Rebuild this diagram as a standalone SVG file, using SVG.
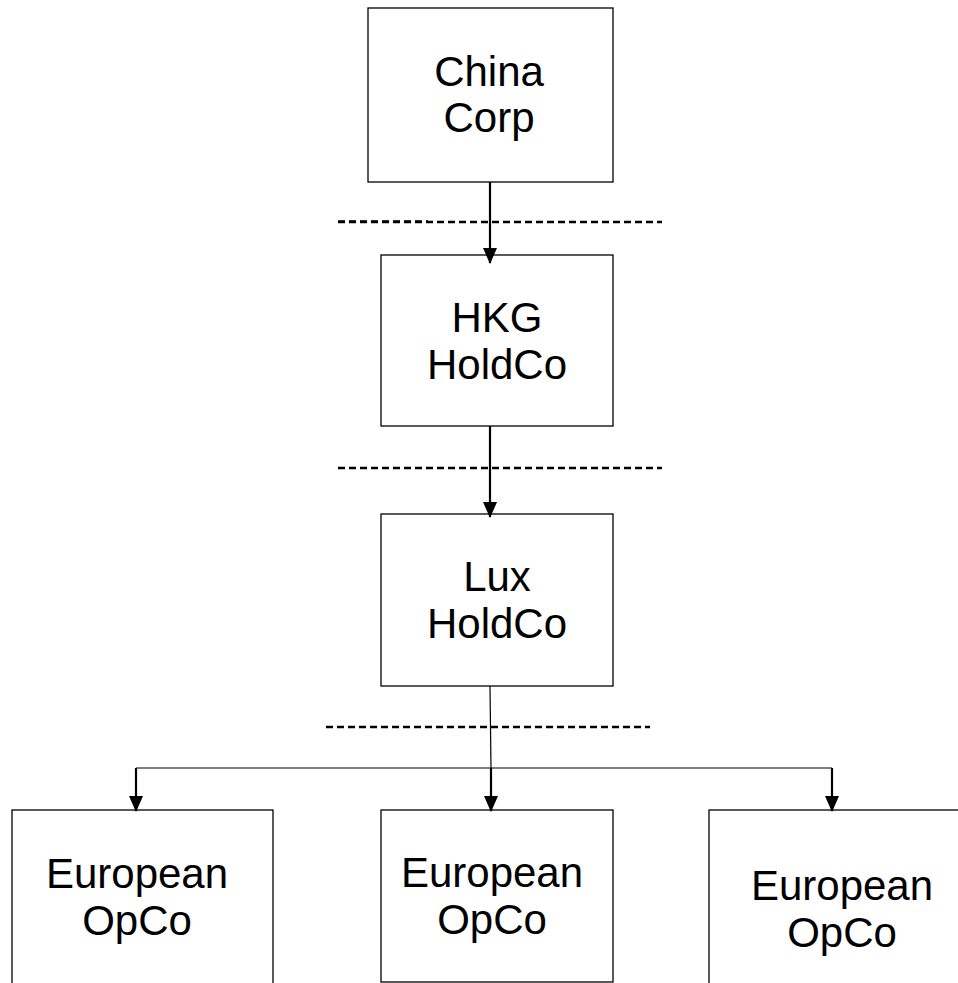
<svg xmlns="http://www.w3.org/2000/svg" width="958" height="983" viewBox="0 0 958 983">
  <style>
    .box { fill: #ffffff; stroke: #000000; stroke-width: 1.3; }
    .lbl { font-family: "Liberation Sans", Arial, sans-serif; font-size: 42px; fill: #000000; text-anchor: middle; }
    .tier { stroke: #000000; stroke-width: 2.4; stroke-dasharray: 7 4; fill: none; }
    .link { stroke: #000000; stroke-width: 2.2; fill: none; }
    .thin { stroke: #000000; stroke-width: 1.2; fill: none; }
  </style>
  <defs>
    <marker id="head" markerUnits="userSpaceOnUse" markerWidth="16" markerHeight="14" viewBox="0 0 16 14" refX="15" refY="7" orient="auto">
      <path d="M0,0 L16,7 L0,14 Z" fill="#000000"/>
    </marker>
  </defs>

  <!-- tier boundaries -->
  <g id="tiers">
    <line class="tier" x1="338" y1="222" x2="662" y2="222"/>
    <line class="tier" x1="338" y1="221.5" x2="428" y2="221.5"/>
    <line class="tier" x1="338" y1="468" x2="662" y2="468"/>
    <line class="tier" x1="326" y1="727" x2="650" y2="727"/>
  </g>

  <g id="china-corp">
    <rect class="box" x="368" y="8" width="245" height="174"/>
    <text class="lbl" x="489" y="86">China</text>
    <text class="lbl" x="489" y="132">Corp</text>
  </g>

  <g id="hkg-holdco">
    <rect class="box" x="381" y="255" width="232" height="171"/>
    <text class="lbl" x="497" y="332">HKG</text>
    <text class="lbl" x="497" y="379">HoldCo</text>
  </g>

  <g id="lux-holdco">
    <rect class="box" x="381" y="514" width="232" height="172"/>
    <text class="lbl" x="497" y="591">Lux</text>
    <text class="lbl" x="497" y="638">HoldCo</text>
  </g>

  <g id="opco-1">
    <rect class="box" x="12" y="810" width="261" height="190"/>
    <text class="lbl" x="137" y="888">European</text>
    <text class="lbl" x="137" y="935">OpCo</text>
  </g>

  <g id="opco-2">
    <rect class="box" x="381" y="810" width="232" height="172"/>
    <text class="lbl" x="492" y="887">European</text>
    <text class="lbl" x="492" y="934">OpCo</text>
  </g>

  <g id="opco-3">
    <rect class="box" x="709" y="810" width="260" height="190"/>
    <text class="lbl" x="842" y="900">European</text>
    <text class="lbl" x="842" y="947">OpCo</text>
  </g>

  <!-- ownership connectors, drawn over the box edges -->
  <g id="connectors">
    <line class="link" x1="490" y1="182" x2="490" y2="263" marker-end="url(#head)"/>
    <line class="link" x1="490" y1="426" x2="490" y2="517" marker-end="url(#head)"/>
    <line class="thin" x1="490" y1="686" x2="491" y2="768"/>
    <line class="thin" x1="136" y1="768" x2="832" y2="768"/>
    <line class="link" x1="136" y1="768" x2="136" y2="811" marker-end="url(#head)"/>
    <line class="link" x1="491" y1="768" x2="491" y2="811" marker-end="url(#head)"/>
    <line class="link" x1="832" y1="768" x2="832" y2="811" marker-end="url(#head)"/>
  </g>
</svg>
